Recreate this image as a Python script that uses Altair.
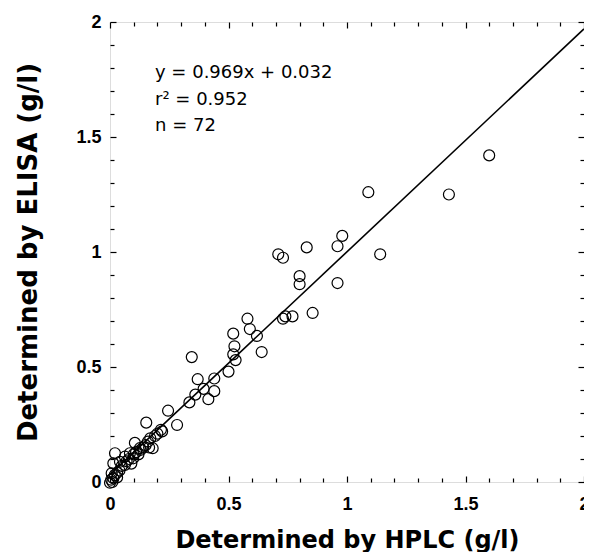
import altair as alt
import pandas as pd

# Measured values (g/l)
hplc = [1.60, 1.43, 1.09, 1.14, 0.98, 0.96, 0.83, 0.96, 0.71, 0.73,
        0.80, 0.80, 0.855, 0.77, 0.74, 0.73, 0.58, 0.59, 0.62, 0.64,
        0.52, 0.525, 0.52, 0.53, 0.50, 0.345, 0.37, 0.44, 0.36, 0.395,
        0.44, 0.415, 0.335, 0.245, 0.283, 0.215, 0.20, 0.153, 0.18, 0.16,
        0.105, 0.126, 0.084, 0.063, 0.021, 0.042, 0.014, 0.007, 0.014, 0.0,
        0.063, 0.098, 0.11, 0.12, 0.14, 0.15, 0.17, 0.19, 0.08, 0.07,
        0.05, 0.04, 0.03, 0.02, 0.01, 0.005, 0.10, 0.13, 0.22, 0.165,
        0.09, 0.03]
elisa = [1.42, 1.25, 1.26, 0.99, 1.07, 1.025, 1.02, 0.865, 0.99, 0.975,
         0.895, 0.86, 0.735, 0.72, 0.72, 0.71, 0.71, 0.665, 0.635, 0.565,
         0.645, 0.59, 0.555, 0.53, 0.48, 0.543, 0.447, 0.45, 0.38, 0.405,
         0.395, 0.36, 0.346, 0.31, 0.248, 0.227, 0.21, 0.258, 0.147, 0.176,
         0.17, 0.147, 0.125, 0.11, 0.125, 0.088, 0.081, 0.038, 0.016, -0.003,
         0.074, 0.103, 0.13, 0.12, 0.15, 0.16, 0.19, 0.20, 0.10, 0.09,
         0.07, 0.05, 0.04, 0.03, 0.0, 0.01, 0.12, 0.14, 0.22, 0.15,
         0.08, 0.02]

slope = 0.969
intercept = 0.032
fit_x = [0.0, 2.0]

x_major = [0, 0.5, 1, 1.5, 2]
x_minor = [0.1, 0.2, 0.3, 0.4, 0.6, 0.7, 0.8, 0.9, 1.1, 1.2, 1.3, 1.4, 1.6, 1.7, 1.8, 1.9]
y_major = [0, 0.5, 1, 1.5, 2]
y_minor = [0.1, 0.2, 0.3, 0.4, 0.6, 0.7, 0.8, 0.9, 1.1, 1.2, 1.3, 1.4, 1.6, 1.7, 1.8, 1.9]

annot = ["y = 0.969x + 0.032", "r\u00b2 = 0.952", "n = 72"]

pts = pd.DataFrame({"hplc": hplc, "elisa": elisa})
fit = pd.DataFrame({"hplc": fit_x, "elisa": [slope * v + intercept for v in fit_x]})
txt = pd.DataFrame({"t": annot, "row": [0, 1, 2]})

xs = alt.Scale(domain=[0, 2], nice=False, zero=False)
ys = alt.Scale(domain=[0, 2], nice=False, zero=False)

LBL = "Liberation Sans"
TTL = "DejaVu Sans"
MAJ = 6
MIN = 4


def tick_axis(orient, values, size, **kw):
    base = dict(orient=orient, values=values, tickSize=size, offset=-size,
                domain=False, grid=False, tickColor="black", tickWidth=1.2)
    base.update(kw)
    return alt.Axis(**base)


x_main = tick_axis("bottom", x_major, MAJ, labels=True, format="~g",
                   labelFont=LBL, labelFontWeight="bold", labelFontSize=18,
                   labelColor="black", labelPadding=13, labelFlush=False,
                   title="Determined by HPLC (g/l)", titleFont=TTL,
                   titleFontWeight="bold", titleFontSize=24, titleColor="black",
                   titlePadding=15)
y_main = tick_axis("left", y_major, MAJ, labels=True, format="~g",
                   labelFont=LBL, labelFontWeight="bold", labelFontSize=18,
                   labelColor="black", labelPadding=9, labelFlush=False,
                   title="Determined by ELISA (g/l)", titleFont=TTL,
                   titleFontWeight="bold", titleFontSize=26, titleColor="black",
                   titlePadding=34)

points = alt.Chart(pts).mark_point(shape="circle", filled=False, color="black",
                                   size=120, strokeWidth=1.2, opacity=1).encode(
    x=alt.X("hplc:Q", scale=xs, axis=x_main),
    y=alt.Y("elisa:Q", scale=ys, axis=y_main),
)

line = alt.Chart(fit).mark_line(color="black", strokeWidth=1.6).encode(
    x=alt.X("hplc:Q", scale=xs, axis=tick_axis("bottom", x_minor, MIN, labels=False, title=None)),
    y=alt.Y("elisa:Q", scale=ys, axis=tick_axis("left", y_minor, MIN, labels=False, title=None)),
)

ghost1 = alt.Chart(fit).mark_point(opacity=0).encode(
    x=alt.X("hplc:Q", scale=xs, axis=tick_axis("top", x_major, MAJ, labels=False, title=None)),
    y=alt.Y("elisa:Q", scale=ys, axis=tick_axis("right", y_major, MAJ, labels=False, title=None)),
)
ghost2 = alt.Chart(fit).mark_point(opacity=0).encode(
    x=alt.X("hplc:Q", scale=xs, axis=tick_axis("top", x_minor, MIN, labels=False, title=None)),
    y=alt.Y("elisa:Q", scale=ys, axis=tick_axis("right", y_minor, MIN, labels=False, title=None)),
)

text = alt.Chart(txt).mark_text(align="left", baseline="alphabetic", font=TTL,
                                fontSize=18, color="black").encode(
    x=alt.value(45),
    y=alt.Y("row:Q", scale=alt.Scale(domain=[0, 2], range=[56, 109]), axis=None),
    text="t:N",
)

chart = alt.layer(points, line, ghost1, ghost2, text).resolve_axis(
    x="independent", y="independent"
).resolve_scale(y="independent").properties(
    width=474, height=460,
    autosize=alt.AutoSizeParams(type="none"),
    padding={"left": 102, "top": 14, "right": 0, "bottom": 70},
).configure_view(stroke="black", strokeWidth=1.5).configure(background="white")

chart.save("out.html", embed_options={"renderer": "svg", "actions": False})
